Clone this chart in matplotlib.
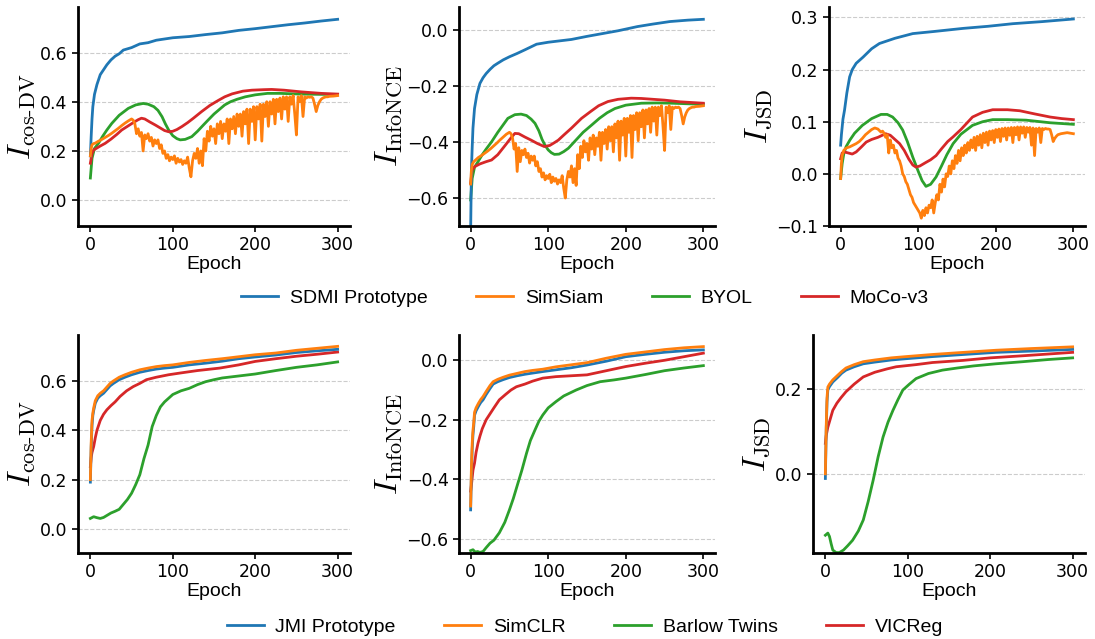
import numpy as np
import matplotlib
matplotlib.use("Agg")
import matplotlib.pyplot as plt

plt.rcParams["mathtext.fontset"] = "cm"

C_BLUE, C_ORANGE, C_GREEN, C_RED = "#1f77b4", "#ff7f0e", "#2ca02c", "#d62728"

# ---------------- top row: SDMI / SimSiam / BYOL / MoCo-v3 ----------------
dv_sdmi_ep = [0, 1, 2, 3, 5, 8, 12, 16, 20, 25, 30, 35, 40, 50, 60, 70, 80, 90, 100,
              120, 140, 160, 180, 200, 220, 240, 260, 280, 300]
dv_sdmi = [0.18, 0.26, 0.33, 0.38, 0.43, 0.47, 0.51, 0.53, 0.55, 0.57, 0.585, 0.595, 0.61,
           0.62, 0.635, 0.64, 0.65, 0.655, 0.66, 0.665, 0.673, 0.68, 0.69, 0.697, 0.705,
           0.713, 0.72, 0.728, 0.735]

dv_byol_ep = [0, 2, 5, 10, 15, 20, 26, 35, 46, 55, 64, 70, 77, 82, 87, 91, 95, 100, 105, 109,
              115, 123, 130, 137, 143, 150, 157, 163, 170, 178, 188, 200, 215, 230, 256, 280, 300]
dv_byol = [0.09, 0.17, 0.21, 0.232, 0.26, 0.285, 0.312, 0.345, 0.373, 0.387, 0.393, 0.39,
           0.38, 0.365, 0.339, 0.31, 0.285, 0.262, 0.25, 0.245, 0.247, 0.258, 0.28, 0.305,
           0.326, 0.35, 0.37, 0.387, 0.4, 0.41, 0.42, 0.428, 0.434, 0.434, 0.431, 0.43, 0.43]

dv_moco_ep = [0, 2, 4, 8, 12, 18, 25, 32, 38, 45, 52, 58, 62, 66, 72, 79, 85, 90, 95, 100,
              105, 111, 118, 125, 135, 145, 155, 163, 172, 185, 196, 210, 220, 235, 256, 280, 300]
dv_moco = [0.15, 0.19, 0.204, 0.212, 0.22, 0.231, 0.248, 0.267, 0.285, 0.3, 0.315, 0.327,
           0.333, 0.33, 0.318, 0.305, 0.293, 0.283, 0.278, 0.28, 0.287, 0.299, 0.315, 0.333,
           0.36, 0.385, 0.405, 0.42, 0.432, 0.443, 0.447, 0.449, 0.45, 0.447, 0.44, 0.434, 0.431]

siam_ep_early = [0, 1, 2, 4, 6, 8, 10, 14, 18, 22, 26, 30, 34, 38, 42, 46, 50]
siam_ep_late = list(range(52, 292, 2)) + [295, 300]
siam_ep = siam_ep_early + siam_ep_late

dv_siam = [0.18, 0.21, 0.225, 0.23, 0.232, 0.236, 0.24, 0.247, 0.255, 0.263, 0.272, 0.282,
           0.292, 0.303, 0.313, 0.322, 0.33,
           # 52 .. 290 step 2
           0.325, 0.31, 0.27, 0.29, 0.26, 0.275, 0.20, 0.265, 0.25, 0.27,
           0.24, 0.255, 0.22, 0.245, 0.23, 0.245, 0.21, 0.225, 0.19, 0.2,
           0.17, 0.185, 0.16, 0.175, 0.165, 0.18, 0.15, 0.17, 0.155, 0.165,
           0.145, 0.16, 0.15, 0.175, 0.13, 0.095, 0.16, 0.19, 0.17, 0.21,
           0.15, 0.2, 0.14, 0.25, 0.2, 0.28, 0.24, 0.3, 0.26, 0.29,
           0.23, 0.31, 0.27, 0.32, 0.25, 0.31, 0.28, 0.33, 0.23, 0.33,
           0.29, 0.34, 0.27, 0.35, 0.30, 0.35, 0.26, 0.36, 0.31, 0.37,
           0.23, 0.37, 0.32, 0.38, 0.245, 0.38, 0.33, 0.39, 0.24, 0.39,
           0.34, 0.40, 0.30, 0.40, 0.35, 0.41, 0.31, 0.41, 0.36, 0.415,
           0.33, 0.42, 0.37, 0.42, 0.32, 0.42, 0.39, 0.425, 0.35, 0.265,
           0.42, 0.40, 0.425, 0.34, 0.42, 0.415, 0.42, 0.418, 0.42, 0.415,
           0.39, 0.36, 0.385, 0.40, 0.41, 0.415, 0.418, 0.42, 0.42, 0.422,
           0.423, 0.425]

nce_sdmi_ep = [0, 1, 2, 3, 5, 8, 12, 16, 20, 25, 30, 35, 42, 50, 60, 70, 85, 100, 115, 130,
               150, 170, 190, 215, 235, 257, 280, 300]
nce_sdmi = [-0.72, -0.5, -0.42, -0.35, -0.28, -0.23, -0.19, -0.17, -0.155, -0.14, -0.127,
            -0.118, -0.106, -0.095, -0.083, -0.07, -0.05, -0.043, -0.038, -0.033, -0.022,
            -0.012, -0.002, 0.013, 0.022, 0.031, 0.036, 0.039]

nce_byol_ep = [0, 2, 5, 9.5, 15, 20, 27, 35, 48, 57, 65, 72, 78, 83, 88, 92, 96, 100, 104,
               108, 114, 120, 126, 135, 145, 156, 166, 176, 186, 200, 220, 240, 259, 280, 300]
nce_byol = [-0.607, -0.53, -0.49, -0.47, -0.445, -0.425, -0.399, -0.365, -0.315, -0.302,
            -0.30, -0.305, -0.318, -0.333, -0.36, -0.39, -0.412, -0.428, -0.438, -0.444,
            -0.443, -0.434, -0.422, -0.395, -0.365, -0.339, -0.315, -0.295, -0.28, -0.268,
            -0.261, -0.26, -0.261, -0.263, -0.265]

nce_moco_ep = [0, 2, 5, 12, 20, 27, 35, 45, 52, 57, 62, 70, 78, 86, 95, 102, 108, 113, 120,
               130, 143, 155, 165, 177, 190, 207, 220, 235, 250, 270, 300]
nce_moco = [-0.547, -0.5, -0.488, -0.478, -0.47, -0.464, -0.445, -0.41, -0.385, -0.369,
            -0.37, -0.382, -0.393, -0.405, -0.416, -0.412, -0.402, -0.393, -0.375, -0.35,
            -0.315, -0.29, -0.27, -0.255, -0.247, -0.243, -0.244, -0.247, -0.25, -0.256, -0.261]

nce_siam = [-0.55, -0.5, -0.48, -0.47, -0.465, -0.46, -0.455, -0.448, -0.44, -0.432,
            -0.423, -0.413, -0.403, -0.392, -0.382, -0.372, -0.365,
            # 52 .. 290 step 2
            -0.37, -0.385, -0.425, -0.405, -0.505, -0.42, -0.47, -0.43, -0.445, -0.425,
            -0.455, -0.44, -0.475, -0.45, -0.465, -0.45, -0.485, -0.47, -0.505, -0.495,
            -0.525, -0.51, -0.535, -0.52, -0.53, -0.515, -0.545, -0.525, -0.54, -0.53,
            -0.55, -0.535, -0.545, -0.52, -0.565, -0.6, -0.535, -0.505, -0.525, -0.485,
            -0.545, -0.495, -0.555, -0.445, -0.495, -0.415, -0.455, -0.395, -0.435, -0.405,
            -0.465, -0.385, -0.425, -0.375, -0.445, -0.385, -0.415, -0.365, -0.465, -0.365,
            -0.405, -0.355, -0.425, -0.345, -0.395, -0.345, -0.435, -0.335, -0.385, -0.325,
            -0.465, -0.325, -0.375, -0.315, -0.45, -0.315, -0.365, -0.305, -0.455, -0.305,
            -0.355, -0.295, -0.395, -0.295, -0.345, -0.285, -0.385, -0.285, -0.335, -0.28,
            -0.365, -0.275, -0.325, -0.275, -0.375, -0.275, -0.305, -0.27, -0.345, -0.43,
            -0.275, -0.295, -0.27, -0.355, -0.275, -0.28, -0.275, -0.277, -0.275, -0.28,
            -0.305, -0.335, -0.31, -0.295, -0.285, -0.28, -0.277, -0.275, -0.275, -0.273,
            -0.272, -0.27]

jsd_sdmi_ep = [0, 1, 2, 3, 5, 8, 11.6, 15, 20, 29, 40, 50, 70, 93, 120, 158, 190, 222, 260, 300]
jsd_sdmi = [0.055, 0.075, 0.09, 0.105, 0.122, 0.155, 0.186, 0.2, 0.212, 0.224, 0.24, 0.25,
            0.26, 0.269, 0.273, 0.279, 0.283, 0.288, 0.292, 0.297]

jsd_byol_ep = [0, 2, 4, 7, 12, 18, 28, 40, 52, 60, 67, 74, 80, 86, 93, 100, 105, 110, 116,
               123, 130, 137, 145, 155, 170, 183, 196, 215, 239, 270, 300]
jsd_byol = [-0.009, 0.02, 0.038, 0.052, 0.065, 0.078, 0.093, 0.106, 0.114, 0.114, 0.109,
            0.098, 0.084, 0.062, 0.032, 0.005, -0.013, -0.024, -0.02, -0.006, 0.015, 0.037,
            0.058, 0.076, 0.093, 0.1, 0.104, 0.104, 0.103, 0.098, 0.095]

jsd_moco_ep = [0, 2, 5, 10, 15, 20, 27, 33, 40, 48, 58, 64, 70, 76, 82, 88, 93, 97, 102, 110,
               116, 123, 130, 138, 145, 155, 170, 183, 196, 215, 231, 250, 270, 285, 300]
jsd_moco = [0.029, 0.04, 0.042, 0.04, 0.038, 0.042, 0.052, 0.061, 0.066, 0.07, 0.077, 0.074,
            0.066, 0.058, 0.045, 0.028, 0.017, 0.013, 0.015, 0.022, 0.027, 0.035, 0.048,
            0.062, 0.071, 0.085, 0.109, 0.118, 0.123, 0.123, 0.121, 0.115, 0.109, 0.106, 0.104]

jsd_siam_ep = [0, 1, 2, 4, 6, 8, 12, 16, 20, 24, 28, 32, 36, 40, 44, 48, 50] + \
              list(range(52, 282, 2)) + [284, 288, 292, 296, 300]
jsd_siam = [-0.009, 0.02, 0.035, 0.045, 0.048, 0.05, 0.052, 0.055, 0.058, 0.062, 0.068,
            0.075, 0.08, 0.085, 0.088, 0.086, 0.083,
            # 52 .. 280 step 2
            0.08, 0.082, 0.078, 0.07, 0.075, 0.04, 0.065, 0.05, 0.055, 0.04,
            0.045, 0.03, 0.025, 0.015, 0.0, -0.005, -0.015, -0.02, -0.03, -0.04,
            -0.045, -0.055, -0.06, -0.065, -0.07, -0.075, -0.085, -0.07, -0.08, -0.065,
            -0.075, -0.06, -0.065, -0.05, -0.075, -0.055, -0.04, -0.05, -0.02, -0.035,
            -0.01, -0.025, 0.0, -0.005, 0.015, 0.0, 0.025, 0.01, 0.035, 0.02,
            0.045, 0.025, 0.05, 0.035, 0.055, 0.04, 0.06, 0.045, 0.065, 0.05,
            0.07, 0.045, 0.072, 0.055, 0.075, 0.05, 0.078, 0.06, 0.08, 0.055,
            0.082, 0.065, 0.083, 0.06, 0.085, 0.07, 0.086, 0.062, 0.087, 0.072,
            0.088, 0.065, 0.088, 0.074, 0.089, 0.06, 0.089, 0.075, 0.09, 0.065,
            0.09, 0.078, 0.09, 0.07, 0.089, 0.08, 0.089, 0.055, 0.088, 0.035,
            0.087, 0.08, 0.088, 0.06, 0.087, 0.085, 0.087, 0.086, 0.086, 0.085,
            0.075, 0.062, 0.068, 0.072, 0.075,
            0.077, 0.078, 0.079, 0.078, 0.077]

# ---------------- bottom row: JMI / SimCLR / Barlow Twins / VICReg ----------------
dv_jmi_ep = [0, 1, 2, 3, 4, 6, 9, 12, 16, 20, 24, 28, 35, 42, 50, 60, 70, 80, 90, 100, 120,
             140, 160, 180, 200, 225, 250, 275, 300]
dv_jmi = [0.19, 0.33, 0.42, 0.46, 0.48, 0.51, 0.53, 0.54, 0.55, 0.565, 0.58, 0.59, 0.605,
          0.615, 0.625, 0.635, 0.642, 0.648, 0.652, 0.655, 0.665, 0.672, 0.68, 0.69, 0.697,
          0.705, 0.715, 0.722, 0.728]
dv_simclr = [0.2, 0.35, 0.44, 0.47, 0.49, 0.52, 0.54, 0.55, 0.56, 0.575, 0.59, 0.6, 0.615,
             0.625, 0.635, 0.645, 0.652, 0.658, 0.662, 0.665, 0.675, 0.683, 0.69, 0.698,
             0.706, 0.713, 0.724, 0.732, 0.74]

dv_barlow_ep = [0, 4, 8, 12, 16, 20, 25, 30, 35, 40, 45, 50, 55, 60, 65, 70, 75, 80, 85, 90,
                95, 100, 110, 120, 130, 140, 150, 160, 180, 200, 225, 250, 275, 300]
dv_barlow = [0.043, 0.05, 0.046, 0.043, 0.047, 0.055, 0.065, 0.072, 0.08, 0.1, 0.12, 0.145,
             0.18, 0.22, 0.285, 0.34, 0.415, 0.46, 0.495, 0.515, 0.53, 0.545, 0.56, 0.57,
             0.585, 0.597, 0.605, 0.612, 0.62, 0.628, 0.642, 0.655, 0.665, 0.677]

dv_vicreg_ep = [0, 1, 2, 4, 6, 8, 12, 16, 20, 25, 30, 36, 44, 52, 60, 68, 80, 95, 109, 130,
                157, 180, 200, 225, 250, 275, 300]
dv_vicreg = [0.253, 0.29, 0.31, 0.334, 0.37, 0.40, 0.44, 0.465, 0.483, 0.5, 0.515, 0.537,
             0.56, 0.577, 0.59, 0.605, 0.615, 0.625, 0.632, 0.642, 0.652, 0.665, 0.679, 0.69,
             0.7, 0.708, 0.717]

nce_jmi_ep = [0, 1, 2, 3, 4, 5, 7, 10, 13, 16, 20, 25, 29, 35, 42, 50, 60, 70, 80, 93, 110,
              130, 150, 175, 200, 225, 250, 275, 300]
nce_jmi = [-0.503, -0.38, -0.3, -0.25, -0.223, -0.185, -0.17, -0.155, -0.142, -0.133,
           -0.115, -0.095, -0.08, -0.072, -0.065, -0.058, -0.052, -0.047, -0.043, -0.038,
           -0.032, -0.025, -0.016, -0.003, 0.012, 0.02, 0.027, 0.032, 0.035]
nce_simclr = [-0.49, -0.36, -0.28, -0.235, -0.21, -0.175, -0.16, -0.145, -0.132, -0.122,
              -0.105, -0.085, -0.072, -0.064, -0.057, -0.05, -0.044, -0.038, -0.034, -0.03,
              -0.022, -0.015, -0.008, 0.007, 0.02, 0.028, 0.036, 0.042, 0.046]

nce_barlow_ep = [0, 3, 6, 9, 12, 16, 20, 25, 30, 37, 44, 50, 55, 61, 66, 72, 77, 83, 88, 93,
                 100, 110, 120, 136, 150, 167, 185, 200, 225, 250, 275, 300]
nce_barlow = [-0.64, -0.637, -0.645, -0.643, -0.646, -0.643, -0.63, -0.615, -0.605, -0.58,
              -0.545, -0.503, -0.465, -0.413, -0.37, -0.313, -0.27, -0.234, -0.205, -0.184,
              -0.16, -0.139, -0.12, -0.1, -0.085, -0.072, -0.066, -0.06, -0.048, -0.035,
              -0.026, -0.018]

nce_vicreg_ep = [0, 1, 3, 5, 7, 9.5, 12, 15, 20, 25, 30, 37, 45, 52, 59, 70, 80, 93, 110,
                 130, 150, 175, 200, 225, 250, 275, 300]
nce_vicreg = [-0.44, -0.42, -0.37, -0.346, -0.31, -0.279, -0.255, -0.23, -0.2, -0.18, -0.16,
              -0.133, -0.115, -0.1, -0.089, -0.08, -0.07, -0.06, -0.055, -0.052, -0.049,
              -0.035, -0.021, -0.01, 0.0, 0.012, 0.024]

jsd_jmi_ep = [0, 1, 2, 3, 5, 9, 15, 20, 25, 35, 46, 60, 80, 98, 130, 160, 207, 250, 300]
jsd_jmi = [-0.011, 0.1, 0.17, 0.198, 0.206, 0.217, 0.228, 0.238, 0.245, 0.253, 0.26, 0.264,
           0.269, 0.272, 0.277, 0.281, 0.287, 0.29, 0.294]
jsd_simclr = [0.0, 0.11, 0.18, 0.205, 0.212, 0.222, 0.233, 0.242, 0.25, 0.258, 0.265, 0.269,
              0.274, 0.277, 0.282, 0.286, 0.292, 0.296, 0.30]

jsd_barlow_ep = [0, 3, 5, 7, 9, 13, 17, 22, 27, 33, 40, 46, 52, 58, 64, 70, 76, 82, 88, 94,
                 102, 110, 125, 142, 160, 180, 207, 240, 270, 300]
jsd_barlow = [-0.145, -0.14, -0.148, -0.165, -0.18, -0.186, -0.186, -0.18, -0.17, -0.157,
              -0.135, -0.109, -0.065, -0.015, 0.04, 0.087, 0.122, 0.15, 0.175, 0.198, 0.212,
              0.225, 0.237, 0.245, 0.25, 0.255, 0.26, 0.265, 0.27, 0.274]

jsd_vicreg_ep = [0, 1, 3, 6, 9, 14, 19, 25, 35, 46, 60, 75, 86, 110, 130, 167, 200, 240, 270, 300]
jsd_vicreg = [0.072, 0.09, 0.11, 0.13, 0.15, 0.167, 0.18, 0.194, 0.212, 0.229, 0.24, 0.248,
              0.253, 0.258, 0.263, 0.268, 0.274, 0.279, 0.283, 0.287]

TOP_NAMES = ["SDMI Prototype", "SimSiam", "BYOL", "MoCo-v3"]
BOTTOM_NAMES = ["JMI Prototype", "SimCLR", "Barlow Twins", "VICReg"]
COLORS = [C_BLUE, C_ORANGE, C_GREEN, C_RED]

YLAB_DV = r"$I_{\mathrm{cos}\text{-}\mathrm{DV}}$"
YLAB_NCE = r"$I_{\mathrm{InfoNCE}}$"
YLAB_JSD = r"$I_{\mathrm{JSD}}$"

panels = [
    # (rect in px: left, top, right, bottom), ylim, yticks, ylabel, curves in legend order
    ((78, 7, 350, 226), (-0.105, 0.785), [0.0, 0.2, 0.4, 0.6], YLAB_DV,
     [(dv_sdmi_ep, dv_sdmi), (siam_ep, dv_siam), (dv_byol_ep, dv_byol), (dv_moco_ep, dv_moco)]),
    ((459, 7, 715, 226), (-0.70, 0.083), [-0.6, -0.4, -0.2, 0.0], YLAB_NCE,
     [(nce_sdmi_ep, nce_sdmi), (siam_ep, nce_siam), (nce_byol_ep, nce_byol), (nce_moco_ep, nce_moco)]),
    ((829, 7, 1085, 226), (-0.1, 0.32), [-0.1, 0.0, 0.1, 0.2, 0.3], YLAB_JSD,
     [(jsd_sdmi_ep, jsd_sdmi), (jsd_siam_ep, jsd_siam), (jsd_byol_ep, jsd_byol), (jsd_moco_ep, jsd_moco)]),
    ((78, 335, 350, 553), (-0.097, 0.786), [0.0, 0.2, 0.4, 0.6], YLAB_DV,
     [(dv_jmi_ep, dv_jmi), (dv_jmi_ep, dv_simclr), (dv_barlow_ep, dv_barlow), (dv_vicreg_ep, dv_vicreg)]),
    ((459, 335, 715, 553), (-0.648, 0.085), [-0.6, -0.4, -0.2, 0.0], YLAB_NCE,
     [(nce_jmi_ep, nce_jmi), (nce_jmi_ep, nce_simclr), (nce_barlow_ep, nce_barlow), (nce_vicreg_ep, nce_vicreg)]),
    ((813, 335, 1085, 553), (-0.187, 0.328), [0.0, 0.2], YLAB_JSD,
     [(jsd_jmi_ep, jsd_jmi), (jsd_jmi_ep, jsd_simclr), (jsd_barlow_ep, jsd_barlow), (jsd_vicreg_ep, jsd_vicreg)]),
]

# draw order: keep blue under orange in bottom row, like the original
DRAW_ORDER = [2, 3, 0, 1]

W, H = 1095, 639
fig = plt.figure(figsize=(W / 100, H / 100), dpi=100)

LABEL_FONT = "Liberation Sans"
top_handles = None
bottom_handles = None

for i, (rect, ylim, yticks, ylabel, curves) in enumerate(panels):
    l, t, r, b = rect
    ax = fig.add_axes([l / W, 1 - b / H, (r - l) / W, (b - t) / H])
    names = TOP_NAMES if i < 3 else BOTTOM_NAMES
    handles = [None] * 4
    for k in DRAW_ORDER:
        ep, val = curves[k]
        (ln,) = ax.plot(ep, val, color=COLORS[k], lw=2.0, label=names[k])
        handles[k] = ln
    ax.set_xlim(-15, 315)
    ax.set_ylim(*ylim)
    ax.set_xticks([0, 100, 200, 300])
    ax.set_yticks(yticks)
    ax.grid(axis="y", linestyle="--", color="#cccccc", linewidth=0.8)
    ax.set_axisbelow(True)
    for s in ("top", "right"):
        ax.spines[s].set_visible(False)
    for s in ("left", "bottom"):
        ax.spines[s].set_linewidth(2.0)
    ax.tick_params(labelsize=12.5, length=4, width=1.2)
    ax.set_xlabel("Epoch", fontsize=14, family=LABEL_FONT, labelpad=1)
    ax.set_ylabel(ylabel, fontsize=23, labelpad=2)
    if i == 0:
        top_handles = handles
    if i == 3:
        bottom_handles = handles

legend_kw = dict(loc="center", ncol=4, frameon=False, handlelength=1.9,
                 handletextpad=0.6, columnspacing=2.5,
                 prop={"family": LABEL_FONT, "size": 14})
fig.legend(top_handles, TOP_NAMES, bbox_to_anchor=(585 / W, 1 - 298 / H), **legend_kw)
fig.legend(bottom_handles, BOTTOM_NAMES, bbox_to_anchor=(585 / W, 1 - 627 / H), **legend_kw)

fig.savefig("out.png", dpi=100)
